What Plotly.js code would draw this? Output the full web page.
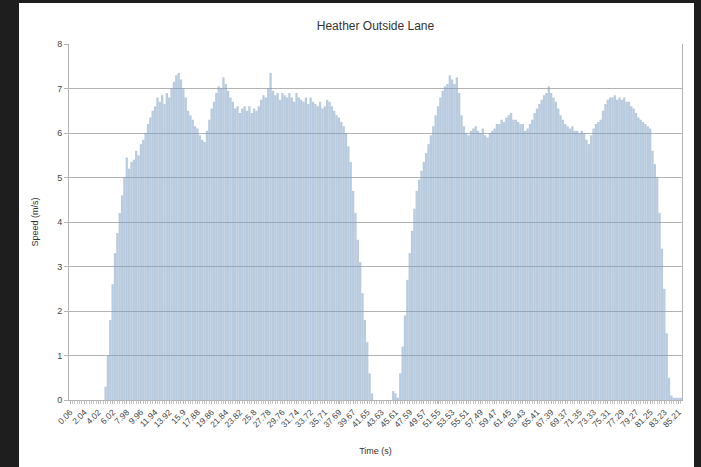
<!DOCTYPE html>
<html>
<head>
<meta charset="utf-8">
<script src="https://cdn.plot.ly/plotly-3.0.1.min.js"></script>
<style>
  html, body { margin: 0; padding: 0; background: #1e1e1e; width: 701px; height: 467px; overflow: hidden; }
  #chart { position: absolute; left: 19px; top: 3px; width: 675px; height: 464px; background: #fff; }
</style>
</head>
<body>
<div id="chart"></div>
<script>
// Sampling of the run: first sample time and interval (s)
const sampleStart = 0.06;
const sampleStep = 0.33;

// Speed samples (m/s), one per interval
const speed = [
  0, 0, 0, 0, 0, 0, 0, 0, 0, 0, 0, 0, 0, 0, 0,
  0.3, 1.0, 1.8, 2.6, 3.3, 3.75, 4.2, 4.6, 5.0, 5.45,
  5.2, 5.35, 5.4, 5.6, 5.5, 5.75, 5.85, 6.0, 6.2, 6.35,
  6.5, 6.6, 6.8, 6.7, 6.85, 6.65, 6.9, 6.8, 7.0, 7.15,
  7.3, 7.35, 7.2, 7.0, 6.8, 6.5, 6.4, 6.3, 6.15, 6.1,
  5.95, 5.85, 5.8, 6.05, 6.3, 6.55, 6.7, 6.9, 7.05, 7.0,
  7.25, 7.1, 6.95, 6.8, 6.7, 6.55, 6.6, 6.45, 6.55, 6.6,
  6.5, 6.6, 6.45, 6.55, 6.5, 6.6, 6.75, 6.85, 6.8, 7.0,
  7.35, 6.95, 6.85, 6.9, 6.75, 6.9, 6.85, 6.8, 6.9, 6.8,
  6.7, 6.9, 6.8, 6.75, 6.7, 6.8, 6.65, 6.8, 6.7, 6.65,
  6.6, 6.7, 6.55, 6.6, 6.75, 6.7, 6.6, 6.5, 6.4, 6.35,
  6.25, 6.15, 6.0, 5.7, 5.35, 4.7, 4.2, 3.6, 3.1, 2.4,
  1.8, 1.3, 0.6, 0.15,
  0, 0, 0, 0, 0, 0, 0, 0,
  0.2, 0.15, 0.05,
  0.6, 1.2, 1.9, 2.7, 3.3, 3.8, 4.3, 4.7, 4.95, 5.15,
  5.35, 5.55, 5.75, 5.95, 6.15, 6.4, 6.6, 6.8, 6.95, 7.05,
  7.1, 7.3, 7.2, 7.1, 7.25, 6.9, 6.4, 6.15, 6.0, 5.95,
  6.05, 6.1, 6.15, 6.05, 6.0, 6.1, 5.95, 5.9, 6.0, 6.05,
  6.1, 6.2, 6.2, 6.3, 6.25, 6.35, 6.4, 6.45, 6.3, 6.3,
  6.25, 6.2, 6.2, 6.05, 6.1, 6.2, 6.3, 6.45, 6.55, 6.65,
  6.75, 6.85, 6.9, 7.05, 6.9, 6.8, 6.7, 6.55, 6.4, 6.3,
  6.2, 6.15, 6.1, 6.15, 6.05, 6.05, 6.0, 6.05, 6.0, 5.85,
  5.75, 5.95, 6.1, 6.2, 6.25, 6.3, 6.5, 6.65, 6.75, 6.8,
  6.8, 6.85, 6.75, 6.8, 6.75, 6.8, 6.7, 6.7, 6.6, 6.55,
  6.45, 6.35, 6.3, 6.25, 6.2, 6.15, 6.1, 5.6, 5.3, 5.0,
  4.2, 3.4, 2.5, 1.5, 0.5, 0.1, 0.05, 0.05, 0.05, 0.05
];

// Labelled times on the axis
const tickLabels = [
  "0.06", "2.04", "4.02", "6.02", "7.98", "9.96", "11.94", "13.92", "15.9", "17.88",
  "19.86", "21.84", "23.82", "25.8", "27.78", "29.76", "31.74", "33.72", "35.71", "37.69",
  "39.67", "41.65", "43.63", "45.61", "47.59", "49.57", "51.55", "53.53", "55.51", "57.49",
  "59.47", "61.45", "63.43", "65.41", "67.39", "69.37", "71.35", "73.33", "75.31", "77.29",
  "79.27", "81.25", "83.23", "85.21"
];

const time = speed.map((_, i) => +(sampleStart + i * sampleStep).toFixed(2));
const lastTime = time[time.length - 1];

const font = "Liberation Sans, Arial, sans-serif";

const trace = {
  type: "bar",
  x: time,
  y: speed,
  marker: { color: "rgba(121,155,193,0.52)", line: { width: 0 } },
  hoverinfo: "x+y"
};

const layout = {
  width: 675,
  height: 464,
  margin: { l: 50, r: 12, t: 41, b: 67 },
  paper_bgcolor: "#ffffff",
  plot_bgcolor: "#ffffff",
  showlegend: false,
  bargap: 0.03,
  font: { family: font, color: "#333333" },
  title: {
    text: "Heather Outside Lane",
    font: { family: font, size: 12, color: "#333333" },
    x: 0.5, xref: "paper", xanchor: "center",
    y: 1 - 23 / 464, yref: "container", yanchor: "middle"
  },
  xaxis: {
    type: "linear",
    range: [sampleStart - sampleStep / 2, lastTime + sampleStep / 2],
    tickmode: "array",
    tickvals: tickLabels.map(Number),
    ticktext: tickLabels,
    tickangle: -45,
    tickfont: { family: font, size: 8.5, color: "#444444" },
    ticks: "outside",
    ticklen: 3,
    tickcolor: "#b3b3b3",
    minor: { dtick: sampleStep, tick0: sampleStart, ticks: "outside", ticklen: 3, tickcolor: "#c4c4c4", showgrid: false },
    showgrid: false,
    showline: true,
    linecolor: "#b3b3b3",
    linewidth: 1,
    zeroline: false,
    title: { text: "Time (s)", font: { family: font, size: 9, color: "#333333" }, standoff: 19 }
  },
  yaxis: {
    range: [0, 8],
    dtick: 1,
    tickfont: { family: font, size: 9, color: "#444444" },
    ticks: "outside",
    ticklen: 4,
    tickcolor: "#b3b3b3",
    showgrid: true,
    gridcolor: "#b3b3b3",
    gridwidth: 1,
    showline: true,
    linecolor: "#b3b3b3",
    linewidth: 1,
    mirror: true,
    zeroline: false,
    title: { text: "Speed (m/s)", font: { family: font, size: 9, color: "#333333" }, standoff: 17 }
  }
};

Plotly.newPlot("chart", [trace], layout, { displayModeBar: false, staticPlot: true });
</script>
</body>
</html>
